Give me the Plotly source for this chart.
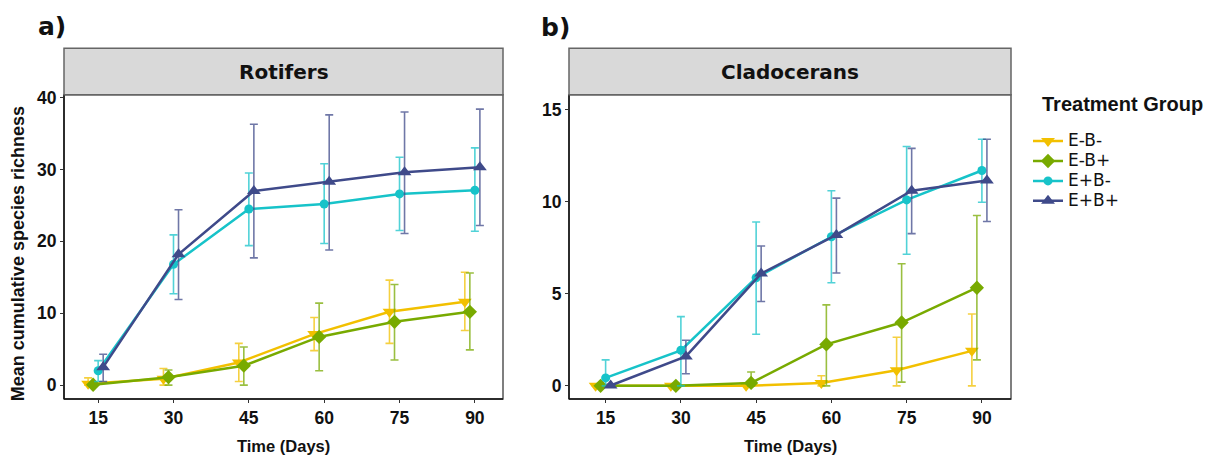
import plotly.graph_objects as go

W, H = 1220, 457

days = [15, 30, 45, 60, 75, 90]
groups = ["E-B-", "E-B+", "E+B-", "E+B+"]

# Rotifers
rot_mean = {
    "E-B-": [0.2, 0.9, 3.15, 7.1, 10.2, 11.6],
    "E-B+": [0.05, 1.1, 2.7, 6.7, 8.8, 10.2],
    "E+B-": [2.0, 16.8, 24.5, 25.2, 26.6, 27.1],
    "E+B+": [2.5, 18.2, 27.0, 28.3, 29.6, 30.3],
}
rot_upper = {
    "E-B-": [1.0, 2.3, 5.8, 9.4, 14.6, 15.7],
    "E-B+": [0.3, 2.1, 5.3, 11.4, 14.0, 15.6],
    "E+B-": [3.4, 20.9, 29.5, 30.8, 31.7, 33.0],
    "E+B+": [4.3, 24.4, 36.3, 37.6, 38.0, 38.4],
}
rot_lower = {
    "E-B-": [0.0, 0.0, 0.5, 4.8, 5.8, 7.6],
    "E-B+": [0.0, 0.0, 0.0, 2.0, 3.5, 4.9],
    "E+B-": [0.5, 12.7, 19.4, 19.7, 21.5, 21.4],
    "E+B+": [0.5, 11.9, 17.7, 18.8, 21.1, 22.2],
}

# Cladocerans
clad_mean = {
    "E-B-": [0.0, 0.0, 0.0, 0.16, 0.85, 1.9],
    "E-B+": [0.0, 0.0, 0.16, 2.25, 3.44, 5.33],
    "E+B-": [0.43, 1.93, 5.87, 8.1, 10.1, 11.7],
    "E+B+": [0.02, 1.6, 6.1, 8.2, 10.6, 11.15],
}
clad_upper = {
    "E-B-": [0.0, 0.0, 0.0, 0.55, 2.64, 3.9],
    "E-B+": [0.0, 0.0, 0.75, 4.4, 6.63, 9.25],
    "E+B-": [1.41, 3.76, 8.9, 10.6, 13.0, 13.4],
    "E+B+": [0.1, 2.48, 7.6, 10.2, 12.9, 13.4],
}
clad_lower = {
    "E-B-": [0.0, 0.0, 0.0, 0.0, 0.0, 0.0],
    "E-B+": [0.0, 0.0, 0.0, 0.0, 0.2, 1.41],
    "E+B-": [0.0, 0.0, 2.8, 5.6, 7.15, 9.97],
    "E+B+": [0.0, 0.66, 4.58, 6.13, 8.27, 8.93],
}

colors = {"E-B-": "#F2C000", "E-B+": "#78AA00", "E+B-": "#17C3C9", "E+B+": "#3F4A8A"}
err_colors = {"E-B-": "rgba(242,192,0,0.75)", "E-B+": "rgba(120,170,0,0.75)",
              "E+B-": "rgba(23,195,201,0.75)", "E+B+": "rgba(63,74,138,0.75)"}
symbols = {"E-B-": "triangle-down", "E-B+": "diamond", "E+B-": "circle", "E+B+": "triangle-up"}
msizes = {"E-B-": 12, "E-B+": 11, "E+B-": 9, "E+B+": 12}
dodge = {"E-B-": -2.0, "E-B+": -1.0, "E+B-": 0.0, "E+B+": 1.0}

LEG_SPAN = "<span style='font-size:17px;font-family:DejaVu Sans'>{}</span>"

fig = go.Figure()

panels = [
    ("x", "y", rot_mean, rot_upper, rot_lower, True),
    ("x2", "y2", clad_mean, clad_upper, clad_lower, False),
]
for xa, ya, mean, upper, lower, show in panels:
    for g in groups:
        xs = [d + dodge[g] for d in days]
        m = mean[g]
        fig.add_trace(go.Scatter(
            x=xs, y=m, xaxis=xa, yaxis=ya,
            mode="lines+markers", name=LEG_SPAN.format(g), showlegend=show, legendgroup=g,
            line=dict(color=colors[g], width=2.5),
            marker=dict(symbol=symbols[g], size=msizes[g], color=colors[g]),
            error_y=dict(type="data", symmetric=False,
                         array=[u - v for u, v in zip(upper[g], m)],
                         arrayminus=[v - l for v, l in zip(m, lower[g])],
                         color=err_colors[g], thickness=1.6, width=4),
        ))

def px(v):
    return v / W

def py(v):
    return (H - v) / H

top_px, bot_px = 89, 398
pa = (64, 503)
pb = (569, 1011)

axis_common = dict(showgrid=False, zeroline=False, showline=False, ticks="outside",
                   ticklen=3, tickwidth=1.2, tickcolor="#333",
                   tickfont=dict(family="Liberation Sans, Arial", size=17.5, color="#111", weight="bold"))

fig.update_layout(
    width=W, height=H, margin=dict(l=0, r=0, t=0, b=0),
    plot_bgcolor="white", paper_bgcolor="white",
    xaxis=dict(domain=[px(pa[0]), px(pa[1])], range=[8.2, 95.6], tickvals=days, anchor="y", **axis_common),
    yaxis=dict(domain=[py(bot_px), py(top_px)], range=[-1.92, 40.41], tickvals=[0, 10, 20, 30, 40], anchor="x", **axis_common),
    xaxis2=dict(domain=[px(pb[0]), px(pb[1])], range=[7.7, 95.8], tickvals=days, anchor="y2", **axis_common),
    yaxis2=dict(domain=[py(bot_px), py(top_px)], range=[-0.71, 15.82], tickvals=[0, 5, 10, 15], anchor="x2", **axis_common),
    legend=dict(x=px(1028), y=py(121), xanchor="left", yanchor="top",
                font=dict(family="DejaVu Sans", size=13, color="#111"),
                tracegroupgap=0, itemwidth=30, bgcolor="rgba(0,0,0,0)"),
    showlegend=True,
)

shapes = []
annotations = []
for (x0, x1), label in [(pa, "Rotifers"), (pb, "Cladocerans")]:
    shapes.append(dict(type="rect", xref="paper", yref="paper", x0=px(x0), x1=px(x1),
                       y0=py(bot_px), y1=py(top_px), line=dict(color="#555", width=1.5), fillcolor="rgba(0,0,0,0)"))
    shapes.append(dict(type="line", xref="paper", yref="paper", x0=px(x0), x1=px(x0),
                       y0=py(bot_px), y1=py(top_px), line=dict(color="#111", width=1.5)))
    shapes.append(dict(type="line", xref="paper", yref="paper", x0=px(x0), x1=px(x1),
                       y0=py(bot_px), y1=py(bot_px), line=dict(color="#111", width=1.5)))
    shapes.append(dict(type="rect", xref="paper", yref="paper", x0=px(x0), x1=px(x1),
                       y0=py(top_px), y1=py(42), line=dict(color="#666", width=1.5), fillcolor="#D9D9D9"))
    annotations.append(dict(text=label, xref="paper", yref="paper", x=px((x0 + x1) / 2), y=py(66),
                            showarrow=False, xanchor="center", yanchor="middle",
                            font=dict(family="DejaVu Sans", size=20, color="#111", weight="bold")))
    annotations.append(dict(text="Time (Days)", xref="paper", yref="paper", x=px((x0 + x1) / 2), y=py(446),
                            showarrow=False, xanchor="center", yanchor="middle",
                            font=dict(family="Liberation Sans, Arial", size=16.5, color="#111", weight="bold")))

annotations.append(dict(text="a)", xref="paper", yref="paper", x=px(52), y=py(20), showarrow=False,
                        xanchor="center", yanchor="middle",
                        font=dict(family="DejaVu Sans", size=25, color="#111", weight="bold")))
annotations.append(dict(text="b)", xref="paper", yref="paper", x=px(555), y=py(21), showarrow=False,
                        xanchor="center", yanchor="middle",
                        font=dict(family="DejaVu Sans", size=25, color="#111", weight="bold")))
annotations.append(dict(text="Mean cumulative species richness", xref="paper", yref="paper",
                        x=px(18), y=py(251), showarrow=False, textangle=-90,
                        xanchor="center", yanchor="middle",
                        font=dict(family="Liberation Sans, Arial", size=18, color="#111", weight="bold")))
annotations.append(dict(text="Treatment Group", xref="paper", yref="paper", x=px(1040), y=py(99),
                        showarrow=False, xanchor="left", yanchor="middle",
                        font=dict(family="Liberation Sans, Arial", size=20, color="#111", weight="bold")))

fig.update_layout(shapes=shapes, annotations=annotations)

fig.write_html("out.html", config={"displayModeBar": False},
               post_script="document.body.style.margin='0';document.body.style.overflow='hidden';")
